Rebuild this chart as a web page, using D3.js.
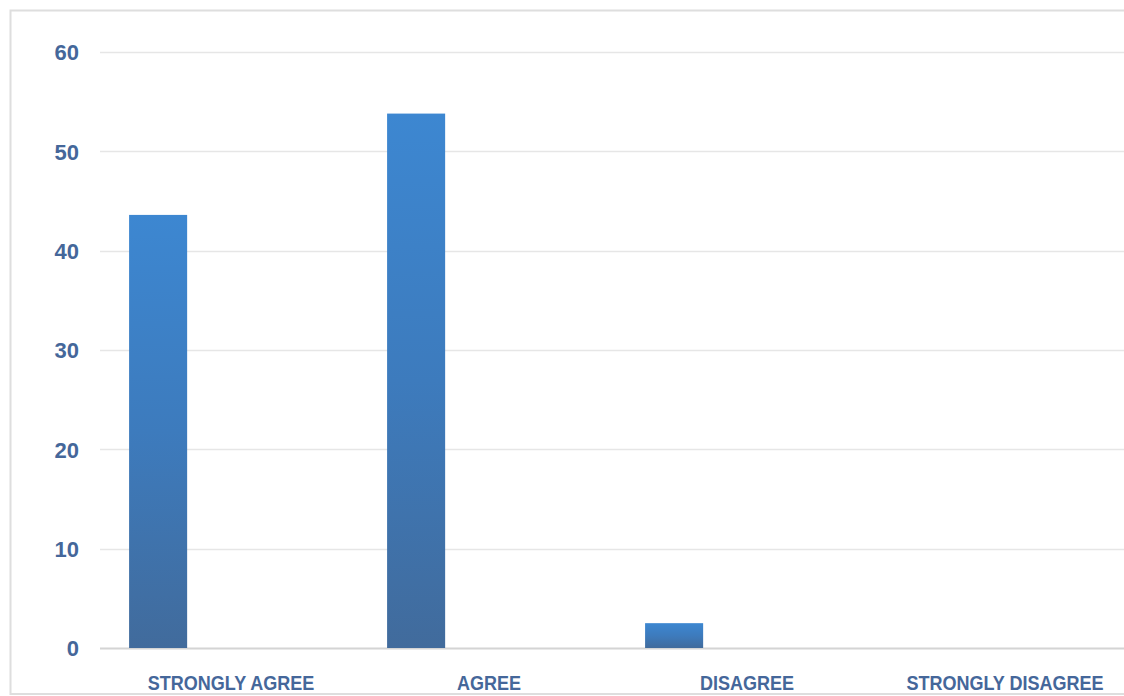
<!DOCTYPE html>
<html>
<head>
<meta charset="utf-8">
<script src="https://cdn.jsdelivr.net/npm/d3@7"></script>
<style>
  html, body { margin: 0; padding: 0; background: #fff; }
  svg { display: block; }
  text { font-family: "Liberation Sans", Arial, sans-serif; font-weight: bold; fill: #45679a; }
</style>
</head>
<body>
<svg id="chart" width="1124" height="696"></svg>
<script>
const categories = ["STRONGLY AGREE", "AGREE", "DISAGREE", "STRONGLY DISAGREE"];
const values = [43.6, 53.8, 2.5, 0];
const yTicks = [0, 10, 20, 30, 40, 50, 60];

const svg = d3.select("#chart");
const W = 1124, H = 696;

const defs = svg.append("defs");
const grad = defs.append("linearGradient").attr("id", "barGrad")
  .attr("x1", 0).attr("y1", 0).attr("x2", 0).attr("y2", 1);
grad.append("stop").attr("offset", "0%").attr("stop-color", "#3d87d1");
grad.append("stop").attr("offset", "50%").attr("stop-color", "#3d7bbd");
grad.append("stop").attr("offset", "100%").attr("stop-color", "#416b9c");

// frame
svg.append("rect").attr("x", 10.5).attr("y", 10.5).attr("width", W).attr("height", 683.5)
  .attr("fill", "none").attr("stroke", "#dedede").attr("stroke-width", 2);

const x = d3.scaleBand().domain(categories).range([102, 1134]).paddingInner(0).paddingOuter(0);
const y = d3.scaleLinear().domain([0, 60]).range([648, 52]);

// gridlines
svg.append("g").selectAll("line").data(yTicks).join("line")
  .attr("x1", 100).attr("x2", W)
  .attr("y1", d => Math.round(y(d)) + 0.5).attr("y2", d => Math.round(y(d)) + 0.5)
  .attr("stroke", d => d === 0 ? "#d4d4d4" : "#e6e6e6").attr("stroke-width", d => d === 0 ? 2 : 1.5);

// y axis labels
const yAxis = d3.axisLeft(y).tickValues(yTicks).tickSize(0).tickPadding(0).tickFormat(d3.format("d"));
const ya = svg.append("g").attr("transform", "translate(79,0)").call(yAxis);
ya.select(".domain").remove();
ya.selectAll("text").attr("font-size", 22).attr("fill", "#45679a")
  .attr("font-family", "'Liberation Sans', Arial, sans-serif").attr("font-weight", "bold")
  .attr("dy", "0.36em");

// bars
svg.append("g").selectAll("rect").data(values).join("rect")
  .attr("x", (d, i) => x(categories[i]) + x.bandwidth() * 0.105)
  .attr("width", x.bandwidth() * 0.225)
  .attr("y", d => y(d))
  .attr("height", d => y(0) - y(d))
  .attr("fill", "url(#barGrad)");

// category labels
const xAxis = d3.axisBottom(x).tickSize(0).tickPadding(0);
const xa = svg.append("g").attr("transform", "translate(0,690)").call(xAxis);
xa.select(".domain").remove();
xa.selectAll("text").attr("font-size", 20).attr("fill", "#45679a")
  .attr("font-family", "'Liberation Sans', Arial, sans-serif").attr("font-weight", "bold")
  .attr("y", 0).attr("dy", 0)
  .each(function() {
    const w = this.getComputedTextLength();
    d3.select(this).attr("textLength", w * 0.9).attr("lengthAdjust", "spacingAndGlyphs");
  });
</script>
</body>
</html>
